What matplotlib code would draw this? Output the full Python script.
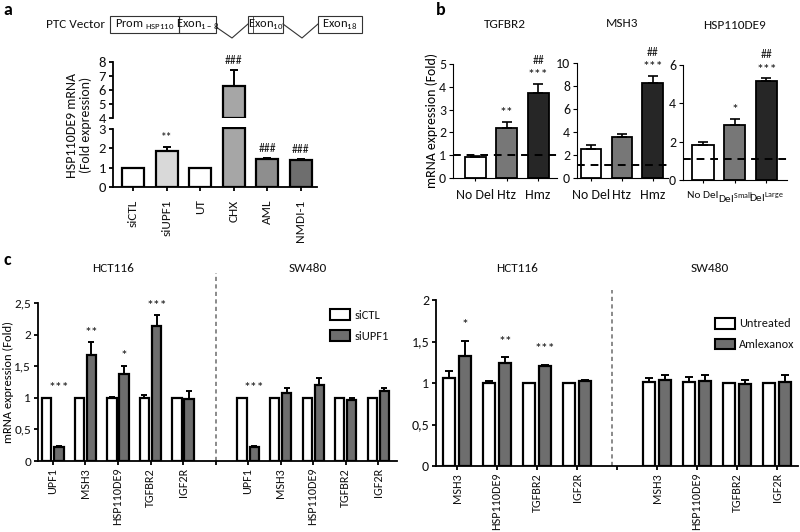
import matplotlib
matplotlib.use('Agg')
import matplotlib.pyplot as plt
import numpy as np
from matplotlib.patches import Rectangle, Patch

plt.rcParams['font.family'] = ['Carlito', 'Lato', 'DejaVu Sans']
plt.rcParams['mathtext.fontset'] = 'custom'
plt.rcParams['mathtext.rm'] = 'Carlito'
plt.rcParams['font.size'] = 8.5
plt.rcParams['axes.linewidth'] = 1.3
plt.rcParams['xtick.major.width'] = 1.3
plt.rcParams['ytick.major.width'] = 1.3
plt.rcParams['xtick.major.size'] = 3
plt.rcParams['ytick.major.size'] = 3
plt.rcParams['xtick.major.pad'] = 2
plt.rcParams['ytick.major.pad'] = 2
plt.rcParams['text.color'] = '#111111'
plt.rcParams['xtick.labelcolor'] = '#111111'
plt.rcParams['ytick.labelcolor'] = '#111111'

# ---------------- data ----------------
a_labels = ['siCTL', 'siUPF1', 'UT', 'CHX', 'AML', 'NMDI-1']
a_values = np.array([1.0, 1.88, 1.0, 6.3, 1.43, 1.40])
a_err = np.array([0.0, 0.17, 0.0, 1.1, 0.05, 0.04])
a_colors = ['white', '#d9d9d9', 'white', '#a6a6a6', '#8e8e8e', '#6e6e6e']
a_marks = ['', '**', '', '###', '###', '###']

b_genes = ['TGFBR2', 'MSH3', 'HSP110DE9']
b_labels_1 = ['No Del', 'Htz', 'Hmz']
b_labels_3 = ['No Del', 'Del$^{\\mathregular{Small}}$', 'Del$^{\\mathregular{Large}}$']
b_tgfbr2 = [0.93, 2.2, 3.75]
b_tgfbr2_err = [0.05, 0.25, 0.38]
b_msh3 = [2.55, 3.6, 8.3]
b_msh3_err = [0.3, 0.25, 0.55]
b_hsp = [1.85, 2.88, 5.15]
b_hsp_err = [0.15, 0.32, 0.15]
b_ref = [1.0, 1.1, 1.1]
b_stars = [['', '**', '***'], ['', '', '***'], ['', '*', '***']]
b_hash = [['', '', '##'], ['', '', '##'], ['', '', '##']]
b_yticks = [[0, 1, 2, 3, 4, 5], [0, 2, 4, 6, 8, 10], [0, 2, 4, 6]]
b_colors = ['white', '#777777', '#262626']

c1_genes = ['UPF1', 'MSH3', 'HSP110DE9', 'TGFBR2', 'IGF2R']
c1_hct_ctl = [1.0, 1.0, 1.0, 0.99, 1.0]
c1_hct_ctl_err = [0.0, 0.0, 0.01, 0.06, 0.0]
c1_hct_upf = [0.22, 1.67, 1.38, 2.14, 0.98]
c1_hct_upf_err = [0.02, 0.21, 0.13, 0.17, 0.13]
c1_sw_ctl = [1.0, 1.0, 1.0, 1.0, 1.0]
c1_sw_ctl_err = [0.0, 0.0, 0.0, 0.0, 0.0]
c1_sw_upf = [0.22, 1.07, 1.2, 0.96, 1.11]
c1_sw_upf_err = [0.01, 0.09, 0.12, 0.03, 0.05]
c1_hct_marks = ['***', '**', '*', '***', '']
c1_sw_marks = ['***', '', '', '', '']

c2_genes = ['MSH3', 'HSP110DE9', 'TGFBR2', 'IGF2R']
c2_hct_unt = [1.06, 1.0, 1.0, 1.0]
c2_hct_unt_err = [0.09, 0.02, 0.0, 0.0]
c2_hct_aml = [1.32, 1.24, 1.2, 1.03]
c2_hct_aml_err = [0.19, 0.07, 0.02, 0.01]
c2_sw_unt = [1.015, 1.015, 1.0, 1.0]
c2_sw_unt_err = [0.04, 0.06, 0.0, 0.0]
c2_sw_aml = [1.035, 1.03, 0.985, 1.01]
c2_sw_aml_err = [0.065, 0.07, 0.05, 0.09]
c2_hct_marks = ['*', '**', '***', '']
c2_sw_marks = ['', '', '', '']

c_cells = ['HCT116', 'SW480']
c1_legend = ['siCTL', 'siUPF1']
c2_legend = ['Untreated', 'Amlexanox']
c_colors = ['white', '#6e6e6e']

# ---------------- figure ----------------
W, H = 800, 532
fig = plt.figure(figsize=(W / 100, H / 100), dpi=100)


def px_axes(l, t, r, b):
    ax = fig.add_axes([l / W, 1 - b / H, (r - l) / W, (b - t) / H])
    ax.set_facecolor('none')
    for s in ['top', 'right']:
        ax.spines[s].set_visible(False)
    return ax


def up_err(ax, x, y, e, cap=3, lw=1.4):
    x = np.asarray(x, float); y = np.asarray(y, float); e = np.asarray(e, float)
    m = e > 0
    if m.any():
        ax.errorbar(x[m], y[m], yerr=[np.zeros(m.sum()), e[m]], fmt='none',
                    ecolor='black', elinewidth=lw, capsize=cap, capthick=lw)


# ---- panel a ----
xa = np.arange(len(a_labels))
axl = px_axes(113, 127, 317, 187)
axu = px_axes(113, 62, 317, 118)
low_top = 3.0
axl.set_ylim(0, 3.1)
axl.bar(xa, np.minimum(a_values, low_top + 0.05), width=0.66, color=a_colors,
        edgecolor='black', linewidth=1.6)
up_err(axl, xa, a_values, a_err)
axl.spines['left'].set_bounds(0, 3)
axl.set_yticks([0, 1, 2, 3])
axl.set_xlim(-0.6, 5.48)
axl.set_xticks(xa)
axl.set_xticklabels(a_labels, rotation=90, fontsize=9.5)
axl.tick_params(axis='x', pad=6)
axl.tick_params(axis='y', labelsize=10.5)
m = a_values > 4
axu.bar(xa[m], a_values[m] - 4, bottom=4, width=0.66,
        color=[c for c, k in zip(a_colors, m) if k], edgecolor='black', linewidth=1.6)
up_err(axu, xa, a_values, a_err)
axu.set_ylim(4, 8)
axu.set_yticks([4, 5, 6, 7, 8])
axu.tick_params(axis='y', labelsize=10.5)
axu.set_xlim(-0.6, 5.48)
axu.spines['bottom'].set_visible(False)
axu.set_xticks([])
for i, mk in enumerate(a_marks):
    if not mk:
        continue
    top = a_values[i] + a_err[i]
    ax = axu if top > 4 else axl
    ax.annotate(mk, (xa[i], top), xytext=(0, 3), textcoords='offset points',
                ha='center', va='bottom', fontsize=8.5, annotation_clip=False)
fig.text(79 / W, 1 - 125 / H, 'HSP110DE9 mRNA\n(Fold expression)', rotation=90,
         ha='center', va='center', fontsize=10, linespacing=1.05)

# ---- panel b ----
b_vals = [b_tgfbr2, b_msh3, b_hsp]
b_errs = [b_tgfbr2_err, b_msh3_err, b_hsp_err]
b_px = [(453, 64, 557, 178), (577, 63, 668, 178), (683, 65, 787, 180)]
b_xlim = [(-0.71, 2.6), (-0.46, 2.5), (-0.63, 2.65)]
xb = np.arange(3)
for k in range(3):
    ax = px_axes(*b_px[k])
    ax.bar(xb, b_vals[k], width=0.67, color=b_colors, edgecolor='black', linewidth=1.3)
    up_err(ax, xb, b_vals[k], b_errs[k], cap=3.5, lw=1.2)
    ax.axhline(b_ref[k], color='black', ls=(0, (4, 3)), lw=1.4, zorder=5)
    ax.set_ylim(0, b_yticks[k][-1])
    ax.set_yticks(b_yticks[k])
    ax.set_xlim(*b_xlim[k])
    ax.set_xticks(xb)
    if k == 2:
        ax.set_xticklabels(b_labels_3, fontsize=8.2)
    else:
        ax.set_xticklabels(b_labels_1, fontsize=10)
    ax.tick_params(axis='x', length=2, pad=6)
    ax.tick_params(axis='y', labelsize=10)
    ax.spines['left'].set_linewidth(0.8)
    ax.spines['bottom'].set_linewidth(0.8)
    ax.tick_params(width=0.8)
    for i in range(3):
        top = b_vals[k][i] + b_errs[k][i]
        if b_stars[k][i]:
            ax.annotate(b_stars[k][i], (xb[i], top), xytext=(0, 2), textcoords='offset points',
                        ha='center', va='bottom', fontsize=10, annotation_clip=False)
        if b_hash[k][i]:
            ax.annotate(b_hash[k][i], (xb[i], top), xytext=(0, 13), textcoords='offset points',
                        ha='center', va='bottom', fontsize=8.5, annotation_clip=False)
    ax.set_title(b_genes[k], fontsize=9.5, pad=26)
    if k == 0:
        ax.set_ylabel('mRNA expression (Fold)', fontsize=10, labelpad=1)


def comma(v):
    s = ('%g' % v)
    return s.replace('.', ',')


def legend_at(ax, labels, x_px, y_px, l, t, r, b, fs):
    ax.legend(handles=[Patch(facecolor=c_colors[0], edgecolor='black', lw=1.5, label=labels[0]),
                       Patch(facecolor=c_colors[1], edgecolor='black', lw=1.5, label=labels[1])],
              loc='upper left', bbox_to_anchor=((x_px - l) / (r - l), (b - y_px) / (b - t)),
              frameon=False, borderpad=0, borderaxespad=0,
              handlelength=1.6, handleheight=0.95, handletextpad=0.4, labelspacing=0.75,
              fontsize=fs)


# ---- panel c1 ----
c1_px = (38, 303, 397, 461)
ax = px_axes(*c1_px)
n1 = len(c1_genes)
xh = np.arange(n1)
xs = np.arange(n1) + n1 + 1
sep1 = n1
w, off = 0.28, 0.185
ax.bar(xh - off, c1_hct_ctl, w, color=c_colors[0], edgecolor='black', lw=1.6)
ax.bar(xh + off, c1_hct_upf, w, color=c_colors[1], edgecolor='black', lw=1.6)
ax.bar(xs - off, c1_sw_ctl, w, color=c_colors[0], edgecolor='black', lw=1.6)
ax.bar(xs + off, c1_sw_upf, w, color=c_colors[1], edgecolor='black', lw=1.6)
up_err(ax, xh - off, c1_hct_ctl, c1_hct_ctl_err, cap=2.5)
up_err(ax, xh + off, c1_hct_upf, c1_hct_upf_err, cap=2.5)
up_err(ax, xs - off, c1_sw_ctl, c1_sw_ctl_err, cap=2.5)
up_err(ax, xs + off, c1_sw_upf, c1_sw_upf_err, cap=2.5)
for xx, a1, e1, a2, e2, mk in [(xh, c1_hct_ctl, c1_hct_ctl_err, c1_hct_upf, c1_hct_upf_err, c1_hct_marks),
                               (xs, c1_sw_ctl, c1_sw_ctl_err, c1_sw_upf, c1_sw_upf_err, c1_sw_marks)]:
    for i in range(n1):
        if mk[i]:
            top = max(a1[i] + e1[i], a2[i] + e2[i])
            ax.annotate(mk[i], (xx[i] + off, top), xytext=(0, 2.5), textcoords='offset points',
                        ha='center', va='bottom', fontsize=10)
ax.set_ylim(0, 2.5)
ax.set_yticks([0, 0.5, 1, 1.5, 2, 2.5])
ax.set_yticklabels([comma(v) for v in [0, 0.5, 1, 1.5, 2, 2.5]], fontsize=9.5)
ax.set_xlim(-0.46, 2 * n1 + 0.58)
ax.set_xticks(list(xh) + [sep1] + list(xs))
ax.set_xticklabels(c1_genes + [''] + c1_genes, rotation=90, fontsize=8.7)
ax.axvline(sep1, ymin=0, ymax=(461 - 273) / (461 - 303), color='#777777',
           ls=(0, (2.5, 2)), lw=1.2, clip_on=False)
ax.set_ylabel('mRNA expression (Fold)', fontsize=9, va='center')
ax.yaxis.set_label_coords((8 - 38) / (397 - 38), 0.5)
legend_at(ax, c1_legend, 330, 309, *c1_px, 9)
fig.text(113 / W, 1 - 268 / H, c_cells[0], ha='center', va='center', fontsize=9.5)
fig.text(308 / W, 1 - 268 / H, c_cells[1], ha='center', va='center', fontsize=9.5)

# ---- panel c2 ----
c2_px = (436, 300, 798, 466)
ax = px_axes(*c2_px)
n2 = len(c2_genes)
xh = np.arange(n2)
xs = np.arange(n2) + n2 + 1
sep2 = n2
w, off = 0.28, 0.2
ax.bar(xh - off, c2_hct_unt, w, color=c_colors[0], edgecolor='black', lw=1.6)
ax.bar(xh + off, c2_hct_aml, w, color=c_colors[1], edgecolor='black', lw=1.6)
ax.bar(xs - off, c2_sw_unt, w, color=c_colors[0], edgecolor='black', lw=1.6)
ax.bar(xs + off, c2_sw_aml, w, color=c_colors[1], edgecolor='black', lw=1.6)
up_err(ax, xh - off, c2_hct_unt, c2_hct_unt_err, cap=3)
up_err(ax, xh + off, c2_hct_aml, c2_hct_aml_err, cap=3)
up_err(ax, xs - off, c2_sw_unt, c2_sw_unt_err, cap=3)
up_err(ax, xs + off, c2_sw_aml, c2_sw_aml_err, cap=3)
for xx, a1, e1, a2, e2, mk in [(xh, c2_hct_unt, c2_hct_unt_err, c2_hct_aml, c2_hct_aml_err, c2_hct_marks),
                               (xs, c2_sw_unt, c2_sw_unt_err, c2_sw_aml, c2_sw_aml_err, c2_sw_marks)]:
    for i in range(n2):
        if mk[i]:
            top = max(a1[i] + e1[i], a2[i] + e2[i])
            ax.annotate(mk[i], (xx[i] + off, top), xytext=(0, 7), textcoords='offset points',
                        ha='center', va='bottom', fontsize=10)
ax.set_ylim(0, 2)
ax.set_yticks([0, 0.5, 1, 1.5, 2])
ax.set_yticklabels([comma(v) for v in [0, 0.5, 1, 1.5, 2]], fontsize=10)
ax.set_xlim(-0.525, 2 * n2 + 0.525)
ax.set_xticks(list(xh) + [sep2] + list(xs))
ax.set_xticklabels(c2_genes + [''] + c2_genes, rotation=90, fontsize=8.7)
ax.axvline(sep2 - 0.12, ymin=0, ymax=1.06, color='#777777',
           ls=(0, (2.5, 2)), lw=1.2, clip_on=False)
legend_at(ax, c2_legend, 715, 318, *c2_px, 8.8)
fig.text(517 / W, 1 - 268 / H, c_cells[0], ha='center', va='center', fontsize=9.5)
fig.text(710 / W, 1 - 268 / H, c_cells[1], ha='center', va='center', fontsize=9.5)

# ---- overlay: panel letters and vector diagram ----
ov = fig.add_axes([0, 0, 1, 1])
ov.set_xlim(0, W)
ov.set_ylim(H, 0)
ov.axis('off')
ov.patch.set_visible(False)
ov.text(3, 10, 'a', fontsize=13, fontweight='bold', ha='left', va='center', color='black')
ov.text(436, 10, 'b', fontsize=13, fontweight='bold', ha='left', va='center', color='black')
ov.text(3, 260, 'c', fontsize=13, fontweight='bold', ha='left', va='center', color='black')

ov.text(105, 24, 'PTC Vector', ha='right', va='center', fontsize=9.5)
boxes = [(110, 179, 'Prom $_{\\mathregular{HSP110}}$'), (179, 216, 'Exon$_{\\mathregular{1-8}}$'),
         (248, 283, 'Exon$_{\\mathregular{10}}$'), (318, 362, 'Exon$_{\\mathregular{18}}$')]
for x0, x1, lab in boxes:
    ov.add_patch(Rectangle((x0, 16), x1 - x0, 17, fill=False, edgecolor='#333333', lw=0.8))
    ov.text((x0 + x1) / 2, 24.5, lab, ha='center', va='center', fontsize=9)
ov.plot([253, 253], [16, 33], color='#333333', lw=0.6)
ov.plot([216, 232, 248], [27, 38, 24], color='#333333', lw=0.8)
ov.plot([283, 302, 318], [24, 38, 24], color='#333333', lw=0.8)

fig.savefig('out.png', dpi=100)
